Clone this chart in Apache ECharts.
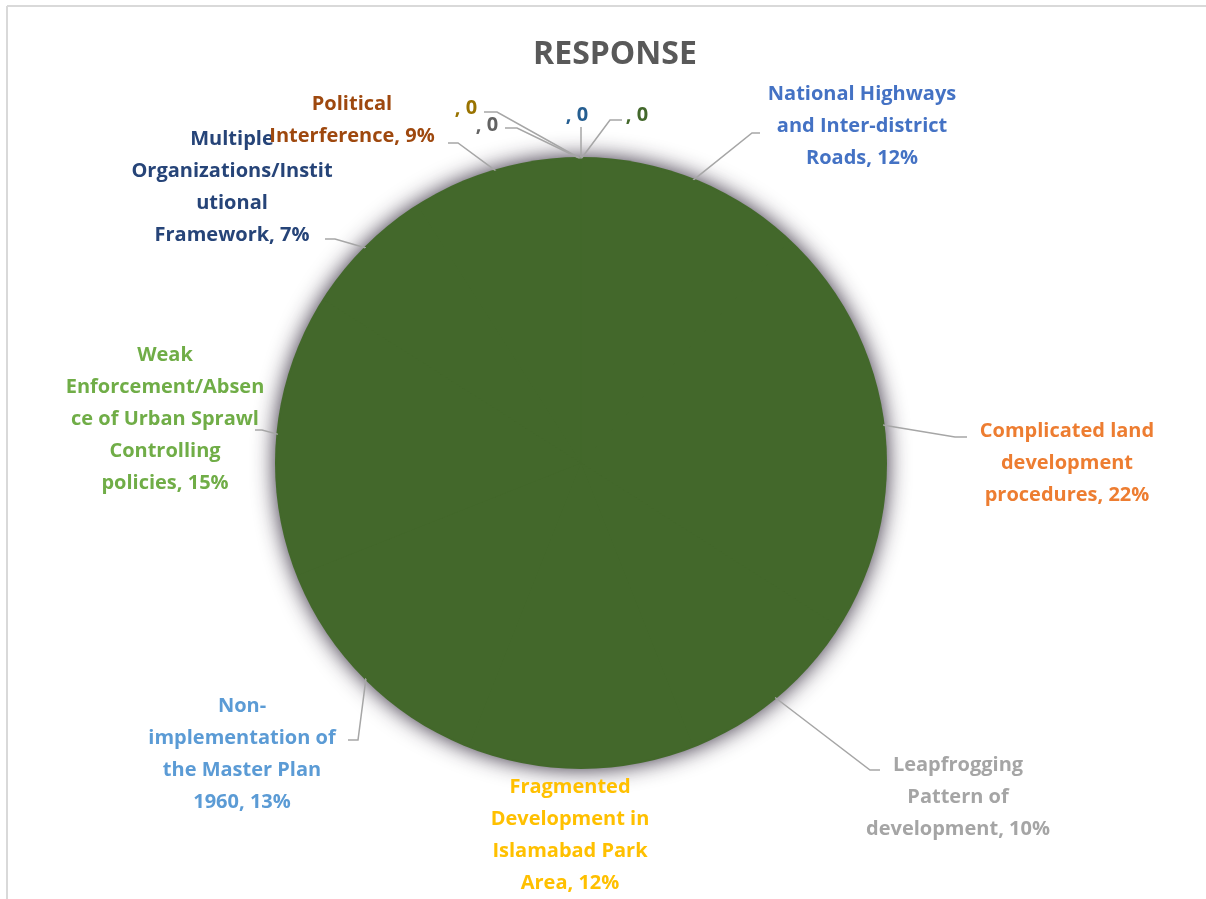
<!DOCTYPE html>
<html>
<head>
<meta charset="utf-8">
<title>RESPONSE</title>
<script src="https://cdn.jsdelivr.net/npm/echarts@6/dist/echarts.min.js"></script>
<style>
  html, body { margin: 0; padding: 0; background: #fff; }
  #main { width: 1206px; height: 899px; }
</style>
</head>
<body>
<div id="main"></div>
<script>
// categories (line breaks as in the original labels), clockwise from 12 o'clock
var categories = [
  'National Highways\nand Inter-district\nRoads',
  'Complicated land\ndevelopment\nprocedures',
  'Leapfrogging\nPattern of\ndevelopment',
  'Fragmented\nDevelopment in\nIslamabad Park\nArea',
  'Non-\nimplementation of\nthe Master Plan\n1960',
  'Weak\nEnforcement/Absen\nce of Urban Sprawl\nControlling\npolicies',
  'Multiple\nOrganizations/Instit\nutional\nFramework',
  'Political\nInterference',
  '', '', '', ''
];
var values = [12, 22, 10, 12, 13, 15, 7, 9, 0, 0, 0, 0];
var labelColors = ['#4472C4', '#ED7D31', '#A5A5A5', '#FFC000', '#5B9BD5', '#70AD47',
  '#264478', '#9E480E', '#636363', '#997300', '#255E91', '#43682B'];

var PIE_GREEN = '#43682B';

// label placement: [centerX, centerY, bendX, bendY, endX, endY] (null line = no leader)
var labelPos = [
  [862, 126, 752, 133, 760, 133],
  [1067, 463, 955, 437, 967, 437],
  [958, 797, 870, 770, 880, 770],
  [570, 835, null, null, null, null],
  [242, 754, 358, 740, 348, 740],
  [165, 419, 262, 430, 255, 430],
  [232, 187, 335, 239, 325, 239],
  [352, 120, 458, 143, 448, 143],
  [487, 125, 517, 128, 505, 128],
  [466, 108, 497, 112, 484, 112],
  [577, 115, 581, 127, 581, 127],
  [637, 115, 610, 120, 622, 120]
];

var chart = echarts.init(document.getElementById('main'), null, { renderer: 'canvas' });

var pieData = categories.map(function (name, i) {
  return {
    name: name,
    value: values[i],
    label: { color: labelColors[i] },
    labelLine: { show: labelPos[i][2] !== null }
  };
});

var option = {
  animation: false,
  backgroundColor: '#ffffff',
  title: {
    text: 'RESPONSE',
    left: 610,
    top: 34,
    textAlign: 'center',
    textStyle: {
      fontFamily: 'Open Sans',
      fontWeight: 'bold',
      fontSize: 32,
      color: '#595959'
    }
  },
  graphic: [
    { type: 'line', shape: { x1: 7, y1: 6, x2: 1206, y2: 6 }, style: { stroke: '#d9d9d9', lineWidth: 2 } },
    { type: 'line', shape: { x1: 7, y1: 6, x2: 7, y2: 899 }, style: { stroke: '#d9d9d9', lineWidth: 2 } }
  ],
  series: [
    {
      // backing disc with soft edge shadow
      type: 'pie',
      silent: true,
      z: 1,
      center: [581, 463],
      radius: 306,
      label: { show: false },
      labelLine: { show: false },
      itemStyle: {
        color: PIE_GREEN,
        shadowBlur: 22,
        shadowColor: 'rgba(30, 20, 40, 0.9)'
      },
      data: [{ value: 1, name: 'bg' }]
    },
    {
      type: 'pie',
      z: 2,
      center: [581, 463],
      radius: 304,
      startAngle: 90,
      clockwise: true,
      avoidLabelOverlap: false,
      itemStyle: {
        color: PIE_GREEN,
        borderColor: PIE_GREEN,
        borderWidth: 1
      },
      label: {
        show: true,
        position: 'outside',
        fontFamily: 'Open Sans',
        fontWeight: 'bold',
        fontSize: 20,
        lineHeight: 32,
        align: 'center',
        formatter: function (p) {
          if (p.value === 0) return ', 0';
          return p.name + ', ' + p.percent + '%';
        }
      },
      labelLine: {
        show: true,
        lineStyle: { color: '#a6a6a6', width: 1.5 }
      },
      labelLayout: function (params) {
        var pos = labelPos[params.dataIndex];
        var res = {
          x: pos[0],
          y: pos[1],
          align: 'center',
          verticalAlign: 'middle'
        };
        if (pos[2] !== null && params.labelLinePoints) {
          var edge = params.labelLinePoints[0];
          res.labelLinePoints = [[edge[0], edge[1]], [pos[2], pos[3]], [pos[4], pos[5]]];
        }
        return res;
      },
      data: pieData
    }
  ]
};

chart.setOption(option);
</script>
</body>
</html>
